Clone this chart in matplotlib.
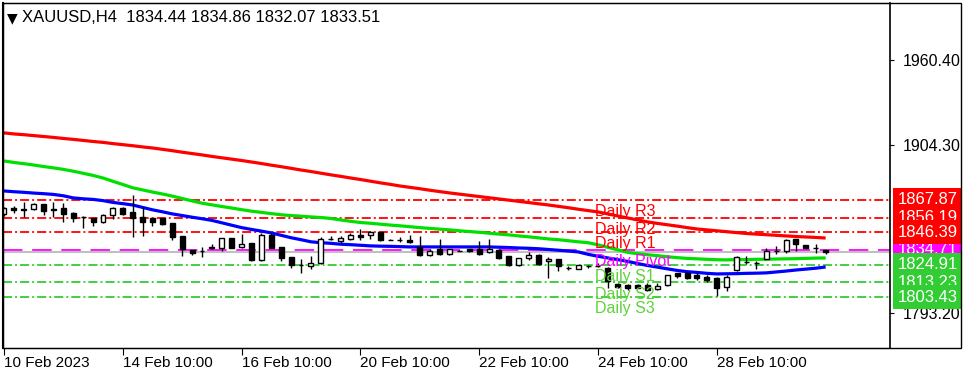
import matplotlib
matplotlib.use('Agg')
import matplotlib.pyplot as plt
import matplotlib.transforms as mtransforms
from matplotlib.patches import Rectangle

plt.rcParams['font.family'] = ['Liberation Sans', 'DejaVu Sans']
plt.rcParams['lines.scale_dashes'] = False

# H4 candles, oldest first
opens = [1858.4, 1862.3, 1861.9, 1862.0, 1865.0, 1861.9, 1862.8, 1859.0, 1856.5, 1855.7,
         1853.0, 1857.9, 1862.3, 1859.7, 1856.8, 1855.7, 1855.7, 1852.4, 1844.2, 1834.7,
         1834.2, 1836.5, 1836.1, 1842.3, 1836.5, 1839.4, 1828.3, 1844.6, 1836.8, 1829.8,
         1824.9, 1823.8, 1826.0, 1842.3, 1840.6, 1842.2, 1844.6, 1844.3, 1846.8, 1841.7,
         1841.7, 1841.5, 1836.5, 1831.1, 1835.0, 1832.2, 1834.4, 1835.0, 1835.5, 1833.3,
         1834.4, 1830.7, 1825.0, 1829.4, 1831.6, 1827.2, 1828.5, 1822.9, 1822.4, 1824.0,
         1824.5, 1822.6, 1812.1, 1811.5, 1811.5, 1811.5, 1808.9, 1811.5, 1819.1, 1819.1,
         1818.0, 1816.9, 1815.8, 1810.4, 1821.2, 1826.8, 1826.2, 1828.7, 1834.1, 1834.1,
         1841.7, 1837.8, 1836.4, 1834.44]
highs = [1863.4, 1864.0, 1866.5, 1865.7, 1865.2, 1866.8, 1865.7, 1860.1, 1857.5, 1856.1,
         1858.3, 1863.4, 1863.4, 1871.2, 1863.4, 1856.1, 1856.1, 1852.4, 1844.2, 1834.7,
         1836.5, 1838.8, 1842.8, 1842.8, 1845.0, 1839.5, 1846.1, 1846.1, 1836.9, 1829.9,
         1828.7, 1830.5, 1843.2, 1843.9, 1843.9, 1846.1, 1848.4, 1847.3, 1846.9, 1841.9,
         1843.2, 1844.3, 1844.2, 1835.5, 1842.0, 1835.5, 1834.8, 1835.5, 1840.9, 1842.0,
         1835.5, 1830.7, 1829.5, 1833.3, 1831.7, 1830.0, 1828.9, 1824.0, 1825.0, 1825.0,
         1826.0, 1823.7, 1812.5, 1811.9, 1811.9, 1812.6, 1812.6, 1818.1, 1819.7, 1820.1,
         1819.1, 1818.0, 1816.9, 1818.0, 1830.9, 1830.5, 1827.7, 1836.3, 1837.4, 1841.7,
         1841.7, 1837.9, 1838.4, 1834.86]
lows = [1857.0, 1859.0, 1856.3, 1861.2, 1857.9, 1856.8, 1853.5, 1853.5, 1849.5, 1850.8,
        1852.6, 1855.3, 1857.9, 1843.5, 1844.2, 1850.8, 1851.5, 1841.3, 1830.9, 1831.4,
        1830.3, 1835.6, 1834.3, 1836.0, 1836.1, 1827.2, 1827.2, 1836.0, 1827.6, 1822.7,
        1819.3, 1822.2, 1825.4, 1841.0, 1839.4, 1841.0, 1841.0, 1841.7, 1840.6, 1841.4,
        1840.1, 1839.5, 1830.7, 1830.7, 1831.6, 1831.1, 1834.0, 1833.3, 1831.6, 1832.9,
        1828.9, 1824.1, 1824.1, 1827.8, 1824.6, 1816.3, 1820.6, 1821.5, 1822.0, 1822.5,
        1823.5, 1809.7, 1809.5, 1808.3, 1809.4, 1807.2, 1808.3, 1811.1, 1815.8, 1815.4,
        1814.7, 1813.7, 1803.9, 1807.6, 1820.6, 1825.5, 1822.3, 1828.7, 1832.0, 1833.0,
        1834.1, 1836.2, 1833.0, 1832.07]
closes = [1862.3, 1861.3, 1861.2, 1865.0, 1860.6, 1861.0, 1858.4, 1856.1, 1856.8, 1853.5,
          1857.9, 1862.3, 1858.4, 1855.7, 1853.5, 1853.5, 1851.7, 1843.5, 1835.3, 1832.5,
          1834.0, 1836.1, 1842.3, 1836.1, 1838.8, 1828.3, 1844.6, 1836.1, 1829.4, 1824.5,
          1824.7, 1826.0, 1841.7, 1842.1, 1842.8, 1844.6, 1843.3, 1846.8, 1841.0, 1841.6,
          1841.6, 1840.0, 1831.5, 1833.7, 1832.2, 1835.0, 1834.3, 1833.7, 1832.2, 1835.5,
          1829.4, 1825.0, 1829.4, 1831.6, 1825.7, 1828.9, 1824.1, 1822.7, 1824.6, 1823.8,
          1824.3, 1814.4, 1810.2, 1809.4, 1809.8, 1808.3, 1810.9, 1818.0, 1817.5, 1816.3,
          1816.3, 1814.7, 1809.4, 1816.9, 1829.8, 1826.4, 1826.1, 1834.1, 1834.0, 1841.2,
          1838.4, 1836.3, 1836.2, 1833.51]

# moving averages (red slow, green medium, blue fast)
ma_red = [1912.3, 1911.6, 1911.1, 1910.5, 1909.9, 1909.3, 1908.6, 1908.0, 1907.3, 1906.6,
          1906.0, 1905.2, 1904.5, 1903.8, 1903.0, 1902.3, 1901.4, 1900.5, 1899.5, 1898.6,
          1897.7, 1896.7, 1895.8, 1894.9, 1894.0, 1893.0, 1892.0, 1890.9, 1889.9, 1888.8,
          1887.7, 1886.7, 1885.6, 1884.5, 1883.5, 1882.4, 1881.4, 1880.3, 1879.2, 1878.2,
          1877.1, 1876.2, 1875.3, 1874.3, 1873.4, 1872.5, 1871.7, 1870.9, 1870.1, 1869.3,
          1868.5, 1867.7, 1866.9, 1866.1, 1865.3, 1864.5, 1863.6, 1862.7, 1861.7, 1860.8,
          1859.9, 1858.6, 1857.2, 1855.9, 1854.6, 1853.3, 1852.3, 1851.4, 1850.5, 1849.5,
          1848.6, 1848.0, 1847.4, 1846.8, 1846.2, 1845.6, 1845.2, 1844.8, 1844.4, 1844.0,
          1843.6, 1843.3, 1843.0, 1842.6]
ma_green = [1893.7, 1892.7, 1891.9, 1891.0, 1890.0, 1889.1, 1888.1, 1886.9, 1885.5, 1884.1,
            1882.4, 1880.2, 1878.1, 1875.9, 1874.5, 1873.1, 1871.8, 1870.4, 1868.8, 1867.2,
            1865.7, 1864.6, 1863.5, 1862.5, 1861.4, 1860.4, 1859.6, 1858.8, 1858.0, 1857.5,
            1857.1, 1856.6, 1856.2, 1855.6, 1854.6, 1853.7, 1852.9, 1852.4, 1851.8, 1851.2,
            1850.7, 1850.1, 1849.5, 1849.0, 1848.5, 1848.0, 1847.4, 1846.9, 1846.4, 1845.8,
            1845.2, 1844.7, 1844.0, 1843.4, 1842.7, 1842.0, 1841.5, 1840.8, 1840.1, 1839.5,
            1838.1, 1836.4, 1834.8, 1833.1, 1832.2, 1831.5, 1830.9, 1830.2, 1829.6, 1829.1,
            1828.8, 1828.5, 1828.2, 1828.1, 1828.3, 1828.3, 1828.5, 1828.5, 1828.7, 1828.8,
            1828.9, 1829.1, 1829.3, 1829.4]
ma_blue = [1873.8, 1873.3, 1872.9, 1872.4, 1872.0, 1871.5, 1870.6, 1869.2, 1868.6, 1868.2,
           1867.4, 1866.2, 1865.4, 1864.5, 1862.9, 1861.3, 1860.0, 1858.6, 1857.5, 1856.4,
           1855.4, 1854.3, 1852.7, 1851.1, 1849.5, 1848.3, 1847.2, 1846.0, 1844.4, 1842.8,
           1841.5, 1840.1, 1839.5, 1839.1, 1838.5, 1838.2, 1837.8, 1837.4, 1837.2, 1837.1,
           1836.9, 1836.7, 1836.7, 1836.7, 1836.7, 1836.7, 1836.7, 1836.7, 1836.7, 1836.7,
           1836.5, 1836.3, 1836.0, 1835.8, 1835.5, 1835.0, 1834.5, 1834.0, 1833.4, 1831.8,
           1830.5, 1829.4, 1828.3, 1827.1, 1825.7, 1824.4, 1823.3, 1822.2, 1821.1, 1820.3,
           1819.8, 1819.2, 1818.8, 1818.9, 1819.0, 1819.2, 1819.3, 1819.5, 1820.1, 1820.7,
           1821.4, 1822.0, 1822.6, 1823.4]

pivot_names = ['Daily R3', 'Daily R2', 'Daily R1', 'Daily Pivot', 'Daily S1', 'Daily S2', 'Daily S3']
pivot_levels = [1867.87, 1856.19, 1846.39, 1834.71, 1824.91, 1813.23, 1803.43]
bid = 1833.51

date_pos = [0, 12, 24, 36, 48, 60, 72]
date_labels = ['10 Feb 2023', '14 Feb 10:00', '16 Feb 10:00', '20 Feb 10:00',
               '22 Feb 10:00', '24 Feb 10:00', '28 Feb 10:00']
price_ticks = [1960.40, 1904.30, 1793.20]
title = 'XAUUSD,H4  1834.44 1834.86 1832.07 1833.51'

W, H = 970, 386
fig = plt.figure(figsize=(W / 100, H / 100), dpi=100)
ax = fig.add_axes([3 / W, 1 - 348 / H, 887 / W, 345 / H])
ax.set_xlim(-0.1, 89.5)
ax.set_ylim(1769.7, 1998.4)

# pivot lines
RED, GREEN, MAG = '#ff0000', '#32cd32', '#ff00ff'
dashdot = (0, (6.5, 2.2, 1.4, 2.2))
for name, lv in zip(pivot_names, pivot_levels):
    if 'R' in name.split()[1]:
        ax.axhline(lv, color=RED, lw=1.3, ls=dashdot, zorder=1)
    elif 'Pivot' in name:
        ax.axhline(lv, color=MAG, lw=1.3, ls=(0, (14, 7)), zorder=1)
    else:
        ax.axhline(lv, color=GREEN, lw=1.3, ls=dashdot, zorder=1)

ax.axhline(bid, color='#c0c0c0', lw=1.5, zorder=1)

# moving averages
xs = list(range(len(closes)))
ax.plot(xs, ma_red, color='#ff0000', lw=2.3, zorder=2, solid_capstyle='butt')
ax.plot(xs, ma_green, color='#00e000', lw=2.3, zorder=2, solid_capstyle='butt')
ax.plot(xs, ma_blue, color='#0000ff', lw=2.3, zorder=2, solid_capstyle='butt')

# candles
for i in xs:
    o, h, l, c = opens[i], highs[i], lows[i], closes[i]
    ax.vlines(i, l, h, color='black', lw=1, zorder=3)
    lo, hi = min(o, c), max(o, c)
    if hi - lo < 0.4:
        ax.hlines(lo, i - 0.25, i + 0.25, color='black', lw=1, zorder=4)
    else:
        fc = 'white' if c > o else 'black'
        ax.add_patch(Rectangle((i - 0.25, lo), 0.5, hi - lo, fc=fc, ec='black', lw=1, zorder=4))

# pivot labels
for name, lv in zip(pivot_names, pivot_levels):
    col = RED if 'R' in name.split()[1] else (MAG if 'Pivot' in name else '#5fd23c')
    ax.annotate(name, (59.7, lv), xytext=(0, -3), textcoords='offset points',
                ha='left', va='top', color=col, fontsize=11.5, zorder=5)

# axes styling
ax.spines['left'].set_linewidth(1.5)
ax.spines['right'].set_linewidth(1.2)
ax.yaxis.tick_right()
ax.set_yticks(price_ticks)
ax.set_yticklabels(['%.2f' % p for p in price_ticks], fontsize=11.5)
ax.tick_params(axis='y', length=3, pad=6, direction='out')
ax.set_xticks(date_pos)
ax.set_xticklabels(date_labels, fontsize=11, ha='left')
ax.tick_params(axis='x', length=5, pad=1, direction='out')

# price boxes on the right scale (pivot drawn first, the others overlap it)
trans = mtransforms.blended_transform_factory(ax.transAxes, ax.transData)
bx, bw, bh = 890 / 887, 69 / 887, 24 * 0.663
order = [3, 0, 1, 2, 4, 5, 6]
for n, k in enumerate(order):
    lv = pivot_levels[k]
    col = RED if k < 3 else (MAG if k == 3 else '#32cd32')
    ax.add_patch(Rectangle((bx, lv - bh / 2), bw, bh, transform=trans, fc=col, ec='none',
                           clip_on=False, zorder=6 + n))
    ax.text(bx + bw / 2, lv, '%.2f' % lv, transform=trans, color='white', fontsize=12,
            ha='center', va='center', clip_on=False, zorder=6 + n)

# outer frame and title
fig.add_artist(Rectangle((3 / W, 1 - 348 / H), 958 / W, 345 / H, transform=fig.transFigure,
                         fill=False, ec='black', lw=1))
fig.text(7 / W, 1 - 18 / H, '\u25bc', fontsize=10, va='center', ha='left', family='DejaVu Sans')
fig.text(22 / W, 1 - 18 / H, title, fontsize=12, va='center', ha='left', color='#000000')

fig.savefig('out.png', dpi=100)
